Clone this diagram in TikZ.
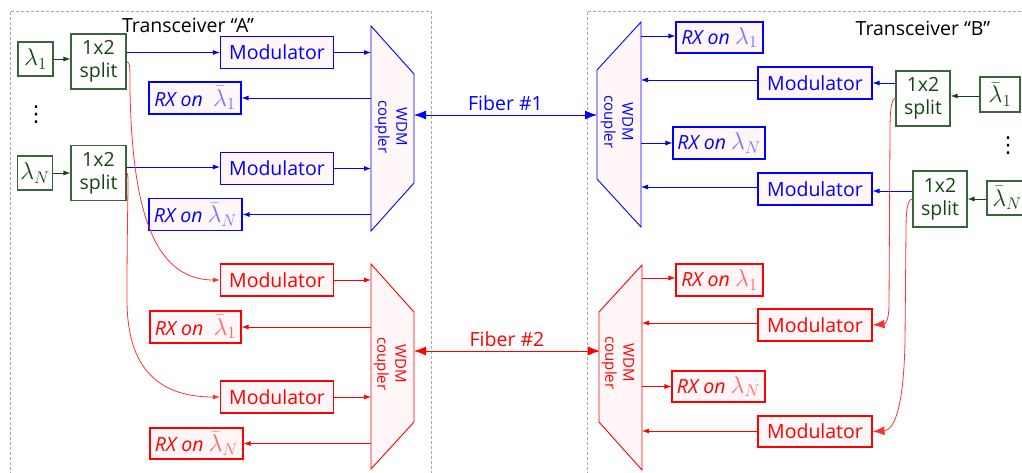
\documentclass[tikz,border=0pt]{standalone}
\usepackage{graphicx}
\usepackage[no-math]{fontspec}
\setmainfont{Open Sans}
\newfontfamily\dejavu{DejaVu Sans}
\newcommand{\mlam}[1]{\scalebox{1.17}{$#1$}}
\usetikzlibrary{arrows.meta}
\definecolor{dgreen}{RGB}{20,70,20}
\definecolor{lgreen}{RGB}{60,100,60}
\definecolor{boxfill}{RGB}{255,247,247}
\colorlet{lblue}{blue!55}
\colorlet{lred}{red!60}
\begin{document}
\begin{tikzpicture}[x=1pt,y=-1pt,
  font=\fontsize{19.5}{23}\selectfont,
  bbox/.style={draw, line width=1.1pt, fill=boxfill, inner sep=0pt, minimum height=32pt, align=center},
  modbox/.style={bbox, minimum width=113pt},
  rxbox/.style={bbox, minimum width=92pt},
  splitbox/.style={draw=lgreen, text=dgreen, line width=1.1pt, fill=white, inner sep=0pt, minimum width=55pt, minimum height=55pt, align=center},
  lambox/.style={draw=lgreen, text=dgreen, line width=1.1pt, fill=white, inner sep=0pt, minimum width=35pt, minimum height=34pt},
  arr/.style={-{Latex[length=7pt,width=5pt]}, line width=0.8pt},
  bigtip/.style={-{Latex[length=12pt,width=9pt]}, line width=0.8pt},
  bigarr/.style={{Latex[length=12pt,width=9pt]}-{Latex[length=12pt,width=9pt]}, line width=0.8pt},
  cpl/.style={draw, line width=0.9pt, fill=boxfill},
  cpltext/.style={rotate=-90, font=\fontsize{15}{18}\selectfont, align=center},
  tbox/.style={draw=gray!70, dash pattern=on 3pt off 2pt, line width=0.6pt},
  vdotsnode/.style={font=\dejavu\fontsize{22}{22}\selectfont, inner sep=0pt},
]
\useasboundingbox (0,0) rectangle (1022,473);

% transceiver frames
\draw[tbox] (10,480) -- (10,11) -- (431,11) -- (431,480);
\draw[tbox] (587,480) -- (587,11) -- (1030,11);
\node (tA) at (188,25) {Transceiver “A”};
\node (tB) at (923,28) {Transceiver “B”};

% coupler reference coordinates
\coordinate (cAbL) at (371,0);   \coordinate (cAbR) at (414,115);
\coordinate (cArL) at (371,0);   \coordinate (cArR) at (414,351);
\coordinate (cBbR) at (641,0);   \coordinate (cBbL) at (597,115);
\coordinate (cBrR) at (642,0);   \coordinate (cBrL) at (600,351);

% ---------- green sources, side A ----------
\node[lambox] (lA1) at (35.5,59) {\mlam{\lambda_1}};
\node[splitbox] (sA1) at (98.5,61.5) {1x2\\split};
\node[lambox] (lAN) at (35,173) {\mlam{\lambda_N}};
\node[splitbox] (sA2) at (98.5,173) {1x2\\split};
\node[vdotsnode] (dA) at (36,115) {⋮};
\draw[arr, dgreen] (lA1.east) -- (lA1.east -| sA1.west);
\draw[arr, dgreen] (lAN.east) -- (lAN.east -| sA2.west);

% ---------- green sources, side B ----------
\node[splitbox, minimum width=54pt] (sB1) at (923,98.5) {1x2\\split};
\node[lambox, minimum width=40pt, minimum height=35pt] (lB1) at (1000,94.5) {\mlam{\bar\lambda_1}};
\node[splitbox, minimum width=54pt, minimum height=56pt] (sB2) at (940,199) {1x2\\split};
\node[lambox, minimum width=40pt] (lBN) at (1007,198) {\mlam{\bar\lambda_N}};
\node[vdotsnode] (dB) at (1008,146) {⋮};
\draw[arr, dgreen] (lB1.west |- 0,96) -- (sB1.east |- 0,96);
\draw[arr, dgreen] (lBN.west |- 0,199) -- (sB2.east |- 0,199);

% ---------- blue, side A ----------
\begin{scope}[blue]
\node[modbox] (mA1) at (277,52.5) {Modulator};
\node[modbox] (mA2) at (277,168.5) {Modulator};
\node[rxbox] (rA1) at (195,98) {\textit{RX on}\ \ \mlam{\color{lblue}\bar\lambda_1}};
\node[rxbox, minimum width=93pt] (rAN) at (195.5,214.5) {\textit{RX on} \mlam{\color{lblue}\bar\lambda_N}};
\draw[cpl] (371,26) -- (414,74) -- (414,183) -- (371,231) -- cycle;
\node[cpltext] (wA1) at (391,127) {WDM\\coupler};
\draw[arr] (mA1.west -| sA1.east) -- (mA1.west);
\draw[arr] (sA2.east |- 0,167) -- (mA2.west |- 0,167);
\draw[arr] (mA1.east) -- (mA1.east -| cAbL);
\draw[arr] (mA2.east) -- (mA2.east -| cAbL);
\draw[arr] (rA1.east -| cAbL) -- (rA1.east);
\draw[arr] (rAN.east -| cAbL) -- (rAN.east);
% fiber 1
\draw[bigarr] (cAbR) -- (cBbL) node[midway, above=1pt] (f1) {Fiber \#1};
% side B
\draw[cpl] (641,22) -- (597,70) -- (597,179) -- (641,227) -- cycle;
\node[cpltext] (wB1) at (617,122) {WDM\\coupler};
\node[rxbox, minimum width=87pt, minimum height=31pt] (rB1) at (719.5,37.5) {\textit{RX on} \mlam{\color{lblue}\lambda_1}};
\node[rxbox] (rBN) at (719,143) {\textit{RX on} \mlam{\color{lblue}\lambda_N}};
\node[modbox, minimum width=114pt] (mB1) at (815,83) {Modulator};
\node[modbox, minimum width=114pt] (mB2) at (815,189) {Modulator};
\draw[arr] (cBbR |- 0,36) -- (rB1.west |- 0,36);
\draw[arr] (cBbR |- rBN.west) -- (rBN.west);
\draw[arr] (mB1.west |- 0,80) -- (cBbR |- 0,80);
\draw[arr] (mB2.west |- 0,187) -- (cBbR |- 0,187);
\draw[arr] (sB1.west |- mB1.east) -- (mB1.east);
\draw[arr] (sB2.west |- 0,191) -- (mB2.east |- 0,191);
\end{scope}

% ---------- red, side A ----------
\begin{scope}[red]
\node[modbox] (mA3) at (277,280) {Modulator};
\node[modbox] (mA4) at (277,397) {Modulator};
\node[rxbox, minimum width=91pt] (rA3) at (195.5,327) {\textit{RX on}\ \ \mlam{\color{lred}\bar\lambda_1}};
\node[rxbox, minimum width=93pt, minimum height=31pt] (rA4) at (196.5,443.5) {\textit{RX on} \mlam{\color{lred}\bar\lambda_N}};
\draw[cpl] (371,264) -- (414,312) -- (414,422) -- (371,469) -- cycle;
\node[cpltext] (wA2) at (390,364) {WDM\\coupler};
\draw[arr] (mA3.east) -- (mA3.east -| cArL);
\draw[arr] (mA4.east) -- (mA4.east -| cArL);
\draw[arr] (rA3.east -| cArL) -- (rA3.east);
\draw[arr] (rA4.east -| cArL) -- (rA4.east);
\draw[arr, red!80] (sA1.east) .. controls +(4,0) and (130,70) .. (130,90)
   .. controls (132,200) and (150,280) .. (mA3.west);
\draw[arr, red!80] (sA2.east) .. controls +(3,0) and (127,190) .. (127,300)
   .. controls (127,370) and (160,397) .. (mA4.west);
% fiber 2
\draw[bigarr] (cArR) -- (cBrL) node[midway, above=1pt] (f2) {Fiber \#2};
% side B
\draw[cpl] (642,265) -- (599,312) -- (599,422) -- (642,470) -- cycle;
\node[cpltext] (wB2) at (618,363) {WDM\\coupler};
\node[rxbox, minimum width=87pt] (rB3) at (719.5,280) {\textit{RX on} \mlam{\color{lred}\lambda_1}};
\node[rxbox, minimum width=93pt, minimum height=31pt] (rB4) at (718.5,386.5) {\textit{RX on} \mlam{\color{lred}\lambda_N}};
\node[modbox, minimum width=114pt] (mB3) at (815,325) {Modulator};
\node[modbox, minimum width=114pt, minimum height=31pt] (mB4) at (815,431.5) {Modulator};
\draw[arr] (cBrR |- 0,278) -- (rB3.west |- 0,278);
\draw[arr] (cBrR |- rB4.west) -- (rB4.west);
\draw[arr] (mB3.west |- 0,323) -- (cBrR |- 0,323);
\draw[arr] (mB4.west |- 0,431) -- (cBrR |- 0,431);
\draw[bigtip, red!80] (sB1.west) .. controls +(-4,0) and (890,110) .. (890,130)
   -- (889,305) .. controls (889,318) and (886,324) .. (mB3.east);
\draw[bigtip, red!80] (sB2.west) .. controls +(-5,0) and (906,210) .. (906,230)
   -- (905,340) .. controls (904,400) and (896,430) .. (mB4.east);
\end{scope}
\end{tikzpicture}
\end{document}
